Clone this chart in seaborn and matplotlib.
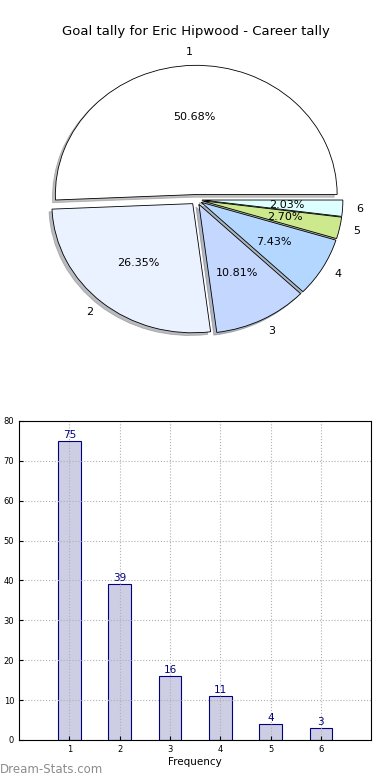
import pandas as pd
import numpy as np
import matplotlib
matplotlib.use('Agg')
import matplotlib.pyplot as plt
import seaborn as sns

# goal tally data: number of goals per match -> number of matches
goals = [1, 2, 3, 4, 5, 6]
matches = [75, 39, 16, 11, 4, 3]
slice_colors = ['#ffffff', '#eaf1ff', '#c4d7ff', '#b3d7ff', '#cde98e', '#ddffff']
title = 'Goal tally for Eric Hipwood - Career tally'

df = pd.DataFrame({'goals': goals, 'matches': matches})

fig = plt.figure(figsize=(3.9, 7.8), dpi=100)

# pie chart (elliptical, exploded, with shadow)
ax1 = fig.add_axes([0.052, 0.537, 0.903, 0.414])
ax1.pie(df['matches'], labels=[str(g) for g in goals], colors=slice_colors,
        explode=[0.04] * len(goals), autopct='%1.2f%%',
        shadow={'ox': -0.015, 'oy': -0.015, 'shade': 0.5},
        startangle=0, wedgeprops={'edgecolor': 'black', 'linewidth': 0.6},
        textprops={'fontsize': 8})
ax1.set_aspect('auto')
ax1.set_xlim(-1.25, 1.25)
ax1.set_ylim(-1.25, 1.25)
ax1.set_title(title, fontsize=9.5, pad=2)

# bar chart
ax2 = fig.add_axes([0.049, 0.0513, 0.9026, 0.409])
sns.barplot(data=df, x='goals', y='matches', native_scale=True, width=0.45,
            color='#cdcde4', edgecolor='#000080', linewidth=0.8,
            saturation=1, ax=ax2)
ax2.bar_label(ax2.containers[0], color='#000080', fontsize=7.5, padding=1)
ax2.set_xlim(0, 7)
ax2.set_ylim(0, 80)
ax2.set_xticks(goals)
ax2.set_yticks(np.arange(0, 81, 10))
ax2.tick_params(direction='in', labelsize=6, length=3)
ax2.set_axisbelow(False)
ax2.grid(True, linestyle=':', color='#b0b0b0', linewidth=0.8)
for spine in ax2.spines.values():
    spine.set_zorder(5)
ax2.set_xlabel('Frequency', fontsize=7.5, labelpad=2)
ax2.set_ylabel('')

fig.text(0.0, 0.005, 'Dream-Stats.com', color='#8c8c8c', fontsize=8.5,
         ha='left', va='bottom')

plt.savefig('out.png', dpi=100)
